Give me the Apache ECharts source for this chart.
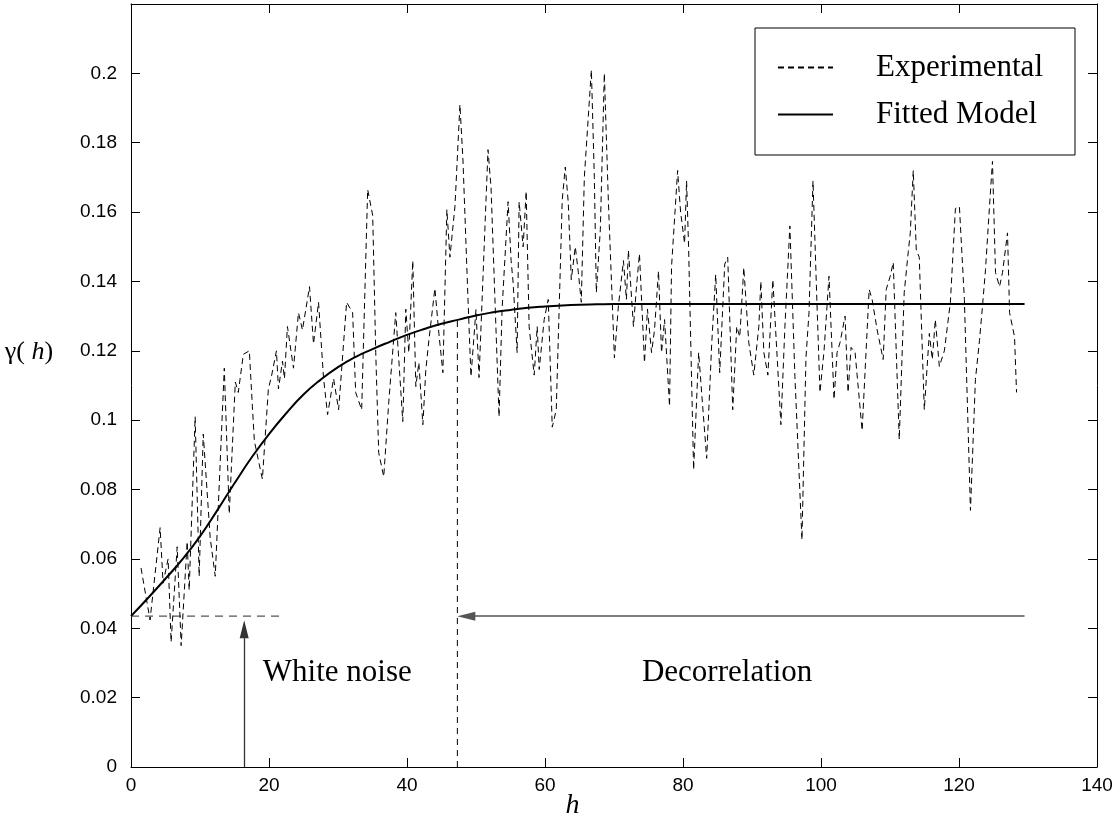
<!DOCTYPE html>
<html><head><meta charset="utf-8">
<script src="https://cdn.jsdelivr.net/npm/echarts@6/dist/echarts.min.js"></script>
<style>html,body{margin:0;padding:0;background:#fff}#c{width:1117px;height:823px}</style>
</head><body><div id="c"></div>
<script>
// ---- Data ----
const expH = [1.45,2.76,4.22,4.65,5.38,5.81,6.69,7.27,8.14,8.43,9.30,9.88,10.47,11.48,12.21,13.52,14.24,15.12,15.55,16.28,17.15,17.59,
17.88,19.04,19.91,20.35,21.08,21.37,21.95,22.24,22.67,23.55,24.27,24.85,25.87,26.45,27.18,27.91,28.49,29.36,30.09,31.25,32.12,32.56,33.43,34.30,
35.03,35.47,35.90,36.63,37.35,38.37,39.39,39.83,40.26,40.84,41.28,41.72,42.30,42.73,43.17,44.04,44.62,45.20,45.78,46.22,46.95,47.67,48.11,48.84,49.27,50.00,50.44,51.74,
52.18,53.34,53.78,54.65,55.09,55.38,55.96,56.25,56.83,57.27,57.70,58.43,58.87,59.16,59.88,60.47,61.05,61.63,62.06,62.50,62.94,63.37,63.81,64.39,64.83,65.26,65.70,66.72,67.15,67.44,68.02,
68.60,69.19,70.06,70.64,71.37,71.80,72.09,72.82,73.26,73.69,74.42,74.85,75.44,75.87,76.45,76.89,77.33,78.05,78.34,79.22,79.65,80.23,80.52,80.81,81.54,82.27,82.70,83.43,84.16,84.74,
85.32,86.05,86.48,87.21,87.79,88.23,88.81,89.53,90.26,90.99,91.28,91.72,92.30,93.02,94.19,94.77,95.49,96.22,97.24,97.82,98.26,98.84,99.42,99.85,100.44,101.16,
101.89,102.33,102.76,103.49,103.92,104.36,104.94,105.96,106.98,107.41,108.14,109.01,109.45,110.03,110.47,111.34,112.06,112.65,112.94,113.37,113.81,114.24,114.97,115.70,116.13,116.57,117.15,117.88,
118.75,119.48,120.06,120.78,121.66,122.38,122.97,123.40,123.84,124.42,124.85,125.29,125.87,126.31,127.03,127.33,128.05,128.34];
const expGamma = [0.0574,0.0424,0.069,0.053,0.060,0.036,0.0635,0.035,0.065,0.051,0.101,0.055,0.096,0.066,0.055,0.115,0.073,0.111,0.108,0.119,0.120,0.104,
0.094,0.083,0.109,0.1126,0.120,0.109,0.117,0.112,0.127,0.115,0.131,0.126,0.1385,0.122,0.134,0.112,0.1016,0.112,0.103,0.134,0.131,0.108,0.103,0.1665,
0.159,0.1195,0.0906,0.0837,0.105,0.131,0.0996,0.132,0.1195,0.146,0.1097,0.1166,0.0987,0.1146,0.123,0.138,0.125,0.1137,0.1607,0.147,0.1616,0.191,0.175,0.1348,0.1126,0.1319,0.1123,0.178,
0.167,0.101,0.132,0.163,0.146,0.1397,0.1195,0.163,0.150,0.166,0.127,0.113,0.127,0.1146,0.129,0.1348,0.098,0.103,0.1328,0.1636,0.173,0.1628,0.1405,0.150,0.1426,0.134,0.170,0.201,0.170,0.1368,0.155,
0.200,0.1628,0.118,0.133,0.146,0.1348,0.149,0.127,0.1385,0.148,0.1166,0.132,0.1195,0.126,0.143,0.1195,0.129,0.104,0.1443,0.172,0.160,0.151,0.169,0.150,0.0857,0.1195,0.108,0.089,0.122,0.142,
0.1137,0.145,0.147,0.103,0.127,0.124,0.144,0.1224,0.113,0.127,0.140,0.1195,0.113,0.1405,0.0987,0.127,0.156,0.1126,0.0655,0.118,0.131,0.169,0.1334,0.108,0.120,0.1415,
0.106,0.1195,0.1224,0.130,0.108,0.121,0.1195,0.097,0.1377,0.1348,0.126,0.1175,0.1377,0.1415,0.1455,0.0944,0.1368,0.1486,0.154,0.172,0.149,0.147,0.103,0.125,0.1175,0.129,0.1155,0.120,
0.134,0.161,0.1616,0.1348,0.074,0.1117,0.123,0.1328,0.1434,0.1616,0.1746,0.1426,0.1385,0.1426,0.154,0.131,0.124,0.108];

// fitted model, every 2.5 units (then flat)
const modelH = [0,2.5,5,7.5,10,12.5,15,17.5,20,22.5,25,27.5,30,32.5,35,37.5,40,42.5,45,47.5,50,52.5,55,57.5,60,62.5,65,67.5,70,72.5,75,77.5,80,90,100,110,120,129.5];
const modelGamma = [0.0435,0.0488,0.0543,0.0600,0.0665,0.0740,0.0818,0.0893,0.0960,0.1020,0.1074,0.1117,0.1153,0.1182,0.1205,0.1226,0.1246,0.1263,0.1278,0.1290,0.1302,0.1311,0.1318,0.1324,0.1328,0.1331,0.1333,0.1334,0.1335,0.1335,0.1335,0.1335,0.1335,0.1335,0.1335,0.1335,0.1335,0.1335];

const seriesNames = ['Experimental','Fitted Model'];
const xAxisRange = [0, 140, 20];
const yAxisRange = [0, 0.22, 0.02];

// annotation values
const noiseLevel = 0.0435;
const noiseLineEnd = 22;
const noiseArrowX = 16.4;
const noiseArrowTip = 0.0423;
const rangeH = 47.3;
const rangeTop = 0.1296;
const decorrEnd = 129.5;
const annotations = [
  {text:'White noise', h:29.9, g:0.0272},
  {text:'Decorrelation', h:86.4, g:0.0272}
];
const xLabelPos = {h:64, g:-0.0112};

// ---- Chart ----
const expData = expH.map((h,i)=>[h, expGamma[i]]);
const modelData = modelH.map((h,i)=>[h, modelGamma[i]]);

const serif = 'Liberation Serif';
const sans = 'Liberation Sans';

function axisX(pos, showLabel){
  return {type:'value', position:pos, min:xAxisRange[0], max:xAxisRange[1], interval:xAxisRange[2],
    axisLine:{show:true, onZero:false, lineStyle:{color:'#000', width:1}},
    axisTick:{show:true, inside:true, length:9, lineStyle:{color:'#000'}},
    axisLabel:{show:showLabel, color:'#000', fontFamily:sans, fontSize:19, margin:9},
    splitLine:{show:false}};
}
function axisY(pos, showLabel){
  return {type:'value', position:pos, min:yAxisRange[0], max:yAxisRange[1], interval:yAxisRange[2],
    axisLine:{show:true, onZero:false, lineStyle:{color:'#000', width:1}},
    axisTick:{show:true, inside:true, length:9, lineStyle:{color:'#000'}},
    axisLabel:{show:showLabel, color:'#000', fontFamily:sans, fontSize:19, margin:14,
      formatter:v=> v > 0.215 ? '' : String(+v.toFixed(2))},
    splitLine:{show:false}};
}

const option = {
  animation:false,
  backgroundColor:'#fff',
  grid:{left:131, right:20, top:4, bottom:56, containLabel:false},
  xAxis:[axisX('bottom', true), axisX('top', false)],
  yAxis:[axisY('left', true), axisY('right', false)],
  legend:{
    data:seriesNames, orient:'vertical', left:755, top:28,
    padding:[24,32,25,22], borderColor:'#000', borderWidth:1, backgroundColor:'#fff',
    itemWidth:55, itemHeight:14, itemGap:16, selectedMode:false,
    itemStyle:{opacity:0, borderWidth:0},
    textStyle:{fontFamily:serif, fontSize:31, color:'#000', lineHeight:30, padding:[0,0,0,38]}
  },
  series:[
    {name:seriesNames[0], type:'line', data:expData, showSymbol:false, symbol:'none',
     lineStyle:{color:'#000', width:1, type:[6,4]}, itemStyle:{color:'#000'}, z:3},
    {name:seriesNames[1], type:'line', data:modelData, showSymbol:false, symbol:'none', smooth:true,
     lineStyle:{color:'#000', width:2}, itemStyle:{color:'#000'}, z:4},
    {name:'noise', type:'line', data:[[0,noiseLevel],[noiseLineEnd,noiseLevel]], showSymbol:false, symbol:'none', silent:true,
     lineStyle:{color:'#555', width:1.3, type:[8,6]}, z:2,
     markLine:{silent:true, symbol:['none','triangle'], symbolSize:[9,18], label:{show:false},
       data:[
         [{coord:[noiseArrowX,0], lineStyle:{color:'#333', width:1.3, type:'solid'}},{coord:[noiseArrowX,noiseArrowTip - 0.0026]}],
         [{coord:[decorrEnd,noiseLevel], lineStyle:{color:'#555', width:1.5, type:'solid'}},{coord:[rangeH + 1.3,noiseLevel]}]
       ],
       itemStyle:{color:'#000'}
     }},
    {name:'range', type:'line', data:[[rangeH,0],[rangeH,rangeTop]], showSymbol:false, symbol:'none', silent:true,
     lineStyle:{color:'#000', width:1, type:[6,5]}, z:2}
  ]
};

const chart = echarts.init(document.getElementById('c'));
chart.setOption(option);

const px = (h,g)=>chart.convertToPixel({gridIndex:0},[h,g]);
const graphics = annotations.map(a=>{
  const p = px(a.h, a.g);
  return {type:'text', x:p[0], y:p[1], silent:true,
    style:{text:a.text, fontFamily:serif, fontSize:31, fill:'#000', align:'center', verticalAlign:'middle'}};
});
const xl = px(xLabelPos.h, xLabelPos.g);
graphics.push({type:'text', x:xl[0], y:xl[1], silent:true,
  style:{text:'h', fontFamily:serif, fontSize:28, fontStyle:'italic', fill:'#000', align:'center', verticalAlign:'middle'}});
graphics.push({type:'text', x:29, y:352, silent:true,
  style:{text:'{g|γ(}{i| h}{g|)}', align:'center', verticalAlign:'middle',
    rich:{g:{fontFamily:serif, fontSize:26, fill:'#000'}, i:{fontFamily:serif, fontSize:26, fontStyle:'italic', fill:'#000'}}}});
chart.setOption({graphic:graphics});
</script>
</body></html>
